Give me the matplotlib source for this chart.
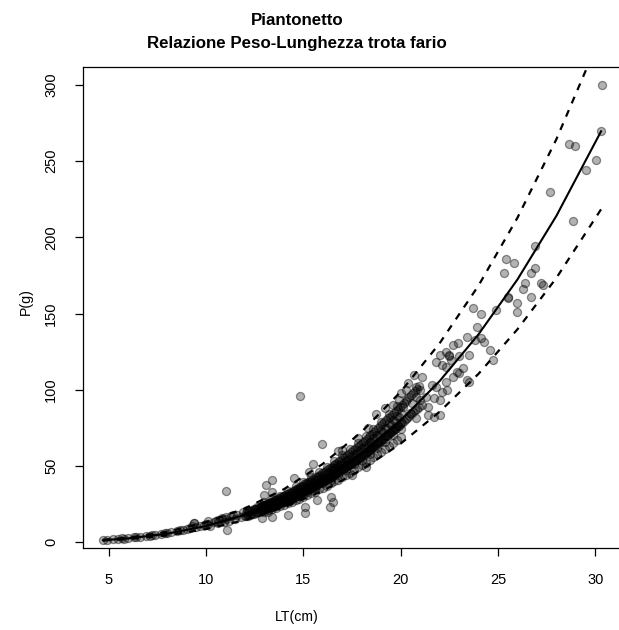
import numpy as np
import matplotlib
matplotlib.use("Agg")
import matplotlib.pyplot as plt

plt.rcParams['font.family'] = ['Liberation Sans', 'DejaVu Sans']

# fitted weight-length curve and its bounds
fit_L = [4.7, 6, 8, 10, 12, 14, 16, 18, 20, 22, 24, 26, 28, 30.3]
fit_W = [1.2, 2.4, 5.5, 10.5, 17.9, 28.1, 41.5, 58.6, 79.8, 105.6, 136.3, 172.3, 214.0, 269.6]
upper_W = [1.5, 2.9, 6.7, 13.0, 22.1, 34.7, 51.3, 72.4, 98.6, 130.4, 168.3, 212.8, 264.3, 333.0]
lower_W = [1.0, 1.9, 4.4, 8.5, 14.5, 22.8, 33.6, 47.5, 64.6, 85.5, 110.4, 139.6, 173.3, 218.4]

# small fish (tight along the curve)
small_L = [4.7, 4.9, 5.2, 5.5, 5.7, 5.8, 6.0, 6.3, 6.4, 6.6, 6.9, 7.1, 7.2, 7.4, 7.7, 7.9,
           8.0, 8.2, 8.5, 8.65, 8.8, 9.0, 9.2, 9.3, 9.4, 9.4, 9.5, 9.7, 9.9, 10.0, 10.1]
small_W = [1.2, 1.4, 1.7, 2.0, 2.8, 2.3, 2.6, 3.0, 3.5, 3.3, 3.8, 4.2, 4.6, 4.6, 5.1, 6.1,
           5.8, 6.4, 7.0, 8.1, 7.6, 8.4, 9.0, 10.5, 12.7, 12.3, 9.7, 10.8, 11.5, 12.0, 13.8]

# 10-13 cm
juv_L = [10.1, 10.2, 10.4, 10.5, 10.6, 10.6, 10.8, 10.8, 10.9, 11.0, 11.05, 11.05, 11.1, 11.2,
         11.3, 11.4, 11.5, 11.6, 11.8, 11.9, 12.0, 12.1, 12.2, 12.3, 12.5, 12.6, 12.6, 12.8,
         12.85, 12.9, 13.0]
juv_W = [12.0, 10.8, 12.9, 13.8, 12.3, 14.5, 14.9, 15.6, 13.2, 15.4, 16.6, 33.7, 7.6, 14.0,
         16.8, 17.7, 15.2, 17.9, 16.3, 19.5, 17.2, 21.0, 20.4, 18.2, 21.6, 19.5, 23.2, 23.5,
         15.6, 21.0, 24.4]

# dense band 13-20 cm: lengths and the weights found at each length
band_len = [13.0, 13.2, 13.4, 13.6, 13.8, 14.0, 14.2, 14.4, 14.6, 14.8, 15.0, 15.2,
            15.4, 15.6, 15.8, 16.0, 16.2, 16.4, 16.6, 16.8, 17.0, 17.2, 17.4, 17.6,
            17.8, 18.0, 18.2, 18.4, 18.6, 18.8, 19.0, 19.2, 19.4, 19.6, 19.8, 20.0]
band_wt = [[19.5, 22.0, 24.0, 26.0], [21.0, 23.0, 25.5, 20.0], [21.5, 24.0, 26.5, 28.0],
           [22.5, 25.0, 27.5, 24.0], [23.5, 26.0, 28.5, 30.5], [24.0, 27.5, 30.0, 26.0],
           [25.5, 28.5, 31.0, 33.5], [26.0, 29.5, 32.5, 28.0], [27.5, 31.0, 34.0, 36.5],
           [28.5, 32.0, 35.0, 30.0], [29.5, 33.5, 36.5, 39.5], [31.0, 35.0, 38.0, 33.0],
           [32.0, 36.0, 39.5, 42.5], [33.0, 37.5, 41.0, 35.5], [34.5, 39.0, 42.5, 46.0],
           [35.5, 40.5, 44.0, 38.5], [37.0, 42.0, 45.5, 49.5], [38.5, 43.5, 47.0, 41.0],
           [40.0, 45.0, 48.5, 53.0], [41.0, 46.5, 50.5, 44.0], [42.5, 48.0, 52.0, 57.0],
           [44.0, 50.0, 54.0, 47.0], [45.5, 51.5, 56.0, 61.0], [47.0, 53.5, 58.0, 51.0],
           [49.0, 55.0, 60.0, 65.0], [50.5, 57.0, 62.0, 54.0], [52.0, 59.0, 64.0, 69.5],
           [54.0, 61.0, 66.0, 58.0], [55.5, 63.0, 68.5, 74.0], [57.5, 65.0, 70.5, 62.0],
           [59.0, 67.0, 73.0, 79.0], [61.0, 69.5, 75.0, 66.0], [63.0, 71.5, 78.0, 84.0],
           [65.0, 74.0, 80.0, 70.0], [67.0, 76.0, 82.5, 89.0], [69.0, 78.5, 85.0, 74.0]]

core_len = [13.1, 13.3, 13.5, 13.7, 13.9, 14.1, 14.3, 14.5, 14.7, 14.9, 15.1, 15.3,
            15.5, 15.7, 15.9, 16.1, 16.3, 16.5, 16.7, 16.9, 17.1, 17.3, 17.5, 17.7,
            17.9, 18.1, 18.3, 18.5, 18.7, 18.9, 19.1, 19.3, 19.5, 19.7, 19.9]
core_wt = [[22.5, 24.0], [23.0, 25.0], [24.5, 26.0], [25.5, 27.0], [26.5, 28.5],
           [27.5, 29.5], [28.5, 31.0], [30.0, 32.0], [31.0, 33.5], [32.5, 35.0],
           [34.0, 36.0], [35.0, 37.5], [36.5, 39.0], [38.0, 40.5], [39.5, 42.0],
           [41.0, 43.5], [42.5, 45.0], [44.0, 47.0], [45.5, 48.5], [47.0, 50.5],
           [48.5, 52.0], [50.5, 54.0], [52.0, 56.0], [54.0, 58.0], [56.0, 60.0],
           [57.5, 62.0], [59.5, 64.0], [61.5, 66.0], [63.5, 68.0], [65.5, 70.5],
           [67.5, 72.5], [69.5, 75.0], [72.0, 77.0], [74.0, 79.5], [76.5, 82.0]]

# extra fish packed in the dark band, 12-21 cm
pack_len = [12.05, 12.15, 12.25, 12.35, 12.45, 12.55, 12.65, 12.75, 12.85, 12.95,
            13.05, 13.15, 13.25, 13.35, 13.45, 13.55, 13.65, 13.75, 13.85, 13.95,
            14.05, 14.15, 14.25, 14.35, 14.45, 14.55, 14.65, 14.75, 14.85, 14.95,
            15.05, 15.15, 15.25, 15.35, 15.45, 15.55, 15.65, 15.75, 15.85, 15.95,
            16.05, 16.15, 16.25, 16.35, 16.45, 16.55, 16.65, 16.75, 16.85, 16.95,
            17.05, 17.15, 17.25, 17.35, 17.45, 17.55, 17.65, 17.75, 17.85, 17.95,
            18.05, 18.15, 18.25, 18.35, 18.45, 18.55, 18.65, 18.75, 18.85, 18.95,
            19.05, 19.15, 19.25, 19.35, 19.45, 19.55, 19.65, 19.75, 19.85, 19.95,
            20.05, 20.15, 20.25, 20.35, 20.45, 20.55, 20.65, 20.75, 20.85, 20.95]
pack_lo = [16.8, 17.3, 17.7, 18.1, 18.6, 19.1, 19.5, 20.0, 20.5, 20.9,
           21.4, 21.9, 22.4, 22.9, 23.4, 24.0, 24.6, 25.1, 25.7, 26.2,
           26.8, 27.3, 27.9, 28.5, 29.1, 29.7, 30.3, 31.0, 31.6, 32.3,
           32.9, 33.6, 34.2, 34.9, 35.5, 36.3, 37.0, 37.8, 38.5, 39.2,
           40.0, 40.7, 41.5, 42.2, 43.0, 43.7, 44.5, 45.4, 46.2, 47.1,
           47.9, 48.7, 49.6, 50.4, 51.3, 52.3, 53.2, 54.1, 55.1, 56.0,
           56.9, 57.8, 58.8, 59.8, 60.8, 61.8, 62.9, 63.9, 64.9, 66.0,
           67.1, 68.3, 69.4, 70.5, 71.6, 72.7, 73.8, 75.0, 76.1, 77.2,
           78.3, 79.4, 80.5, 81.7, 82.8, 84.0, 85.2, 86.4, 87.6, 88.8]
pack_hi = [19.4, 19.9, 20.3, 20.9, 21.4, 21.9, 22.5, 23.0, 23.5, 24.1,
           24.6, 25.1, 25.8, 26.3, 27.0, 27.6, 28.2, 28.9, 29.5, 30.2,
           30.8, 31.5, 32.1, 32.7, 33.5, 34.1, 34.9, 35.6, 36.4, 37.1,
           37.9, 38.6, 39.4, 40.1, 40.9, 41.7, 42.6, 43.4, 44.3, 45.2,
           46.0, 46.9, 47.7, 48.6, 49.4, 50.3, 51.3, 52.2, 53.2, 54.1,
           55.1, 56.1, 57.0, 58.0, 59.1, 60.1, 61.2, 62.3, 63.3, 64.4,
           65.5, 66.6, 67.6, 68.8, 70.0, 71.2, 72.3, 73.5, 74.7, 76.0,
           77.3, 78.5, 79.8, 81.1, 82.4, 83.7, 85.0, 86.2, 87.5, 88.8,
           90.1, 91.4, 92.7, 94.0, 95.2, 96.6, 98.0, 99.4, 100.7, 102.2]

# stray fish around the band, 13-20 cm
stray_L = [13.0, 13.1, 13.4, 13.4, 13.4, 14.2, 14.5, 14.85, 15.1, 15.1, 15.3, 15.5, 15.7,
           15.98, 16.35, 16.4, 16.5, 16.8, 17.0, 17.5, 17.8, 18.2, 18.3, 18.75, 19.2, 19.6]
stray_W = [30.9, 37.4, 40.7, 33.0, 16.6, 17.7, 41.8, 96.1, 23.2, 18.8, 46.2, 51.2, 27.6,
           64.4, 23.2, 29.8, 26.5, 60.0, 60.4, 44.0, 68.0, 49.5, 75.0, 84.0, 88.0, 90.0]

# larger fish, 20-31 cm
big_L = [19.9, 20.0, 20.1, 20.3, 20.4, 20.5, 20.6, 20.7, 20.8, 20.8, 20.8, 21.0, 21.0,
         21.1, 21.1, 21.3, 21.4, 21.4, 21.6, 21.7, 21.7, 21.8, 21.8, 22.0, 22.0, 22.0,
         22.1, 22.1, 22.35, 22.35, 22.35, 22.4, 22.5, 22.5, 22.6, 22.7, 22.7, 22.9, 22.95,
         23.0, 23.0, 23.2, 23.4, 23.4, 23.5, 23.5, 23.7, 23.8, 23.9, 24.15, 24.15, 24.3,
         24.6, 24.75, 24.9, 25.3, 25.4, 25.5, 25.5, 25.8, 26.0, 26.0, 26.3, 26.4, 26.7,
         26.7, 26.9, 26.9, 27.2, 27.3, 27.7, 28.64, 28.86, 28.98, 29.55, 30.06, 30.3, 30.37]
big_W = [93.3, 97.7, 88.9, 99.9, 104.3, 84.6, 91.1, 109.7, 102.0, 81.3, 95.0, 99.9, 93.3,
         108.6, 90.0, 95.5, 83.4, 88.9, 103.0, 94.4, 82.3, 118.5, 102.0, 122.9, 93.3, 83.4,
         116.3, 98.8, 125.0, 115.2, 105.3, 99.9, 121.8, 123.0, 119.6, 108.6, 129.4, 111.9,
         130.5, 121.8, 110.8, 114.1, 134.5, 106.4, 105.3, 123.0, 153.5, 132.7, 141.0, 133.8,
         150.0, 131.6, 126.0, 119.6, 152.0, 176.5, 186.0, 161.0, 160.0, 183.0, 157.0, 151.0,
         166.0, 170.0, 176.5, 161.0, 194.0, 180.0, 170.0, 169.0, 230.0, 261.0, 211.0, 260.0,
         244.0, 251.0, 269.6, 300.0]

# gather all observations
obs_L = list(small_L) + list(juv_L) + list(stray_L) + list(big_L)
obs_W = list(small_W) + list(juv_W) + list(stray_W) + list(big_W)
for l, ws in zip(band_len, band_wt):
    obs_L += [l] * len(ws)
    obs_W += ws
for l, ws in zip(core_len, core_wt):
    obs_L += [l] * len(ws)
    obs_W += ws
obs_L += pack_len + pack_len
obs_W += pack_lo + pack_hi

fig = plt.figure(figsize=(6.19, 6.30), dpi=100)
ax = fig.add_axes([83 / 619, 82 / 630, 547 / 619, 481 / 630])
xmin, xmax = 3.676, 3.676 + 27.648 * 547 / 538

ax.scatter(obs_L, obs_W, s=34, marker='o', facecolor=(0, 0, 0, 0.30),
           edgecolor=(0, 0, 0, 0.42), linewidth=0.9, zorder=2)
ax.plot(fit_L, fit_W, color='black', lw=1.5, zorder=3)
ax.plot(fit_L, upper_W, color='black', lw=1.6, linestyle=(0, (3.2, 3.3)), zorder=3)
ax.plot(fit_L, lower_W, color='black', lw=1.6, linestyle=(0, (3.2, 3.3)), zorder=3)

ax.set_xlim(xmin, xmax)
ax.set_ylim(-3.9, 311.8)
ax.set_xticks([5, 10, 15, 20, 25, 30])
ax.set_yticks([0, 50, 100, 150, 200, 250, 300])
ax.tick_params(direction='out', length=6, width=0.9, labelsize=10.5, pad=12, colors='black')
for lab in ax.get_yticklabels():
    lab.set_rotation(90)
    lab.set_va('center')
for sp in ax.spines.values():
    sp.set_linewidth(0.9)
ax.spines['right'].set_visible(False)

fig.text(297 / 619, 1 - 25 / 630, "Piantonetto", ha='center', va='baseline',
         fontsize=12.2, fontweight='bold')
fig.text(297 / 619, 1 - 48 / 630, "Relazione Peso-Lunghezza trota fario", ha='center',
         va='baseline', fontsize=12.2, fontweight='bold')
fig.text(297 / 619, 1 - 621 / 630, "LT(cm)", ha='center', va='baseline', fontsize=10.2)
fig.text(26 / 619, 1 - 302 / 630, "P(g)", ha='center', va='center', rotation=90, fontsize=10.2)

fig.savefig("out.png", dpi=100)
